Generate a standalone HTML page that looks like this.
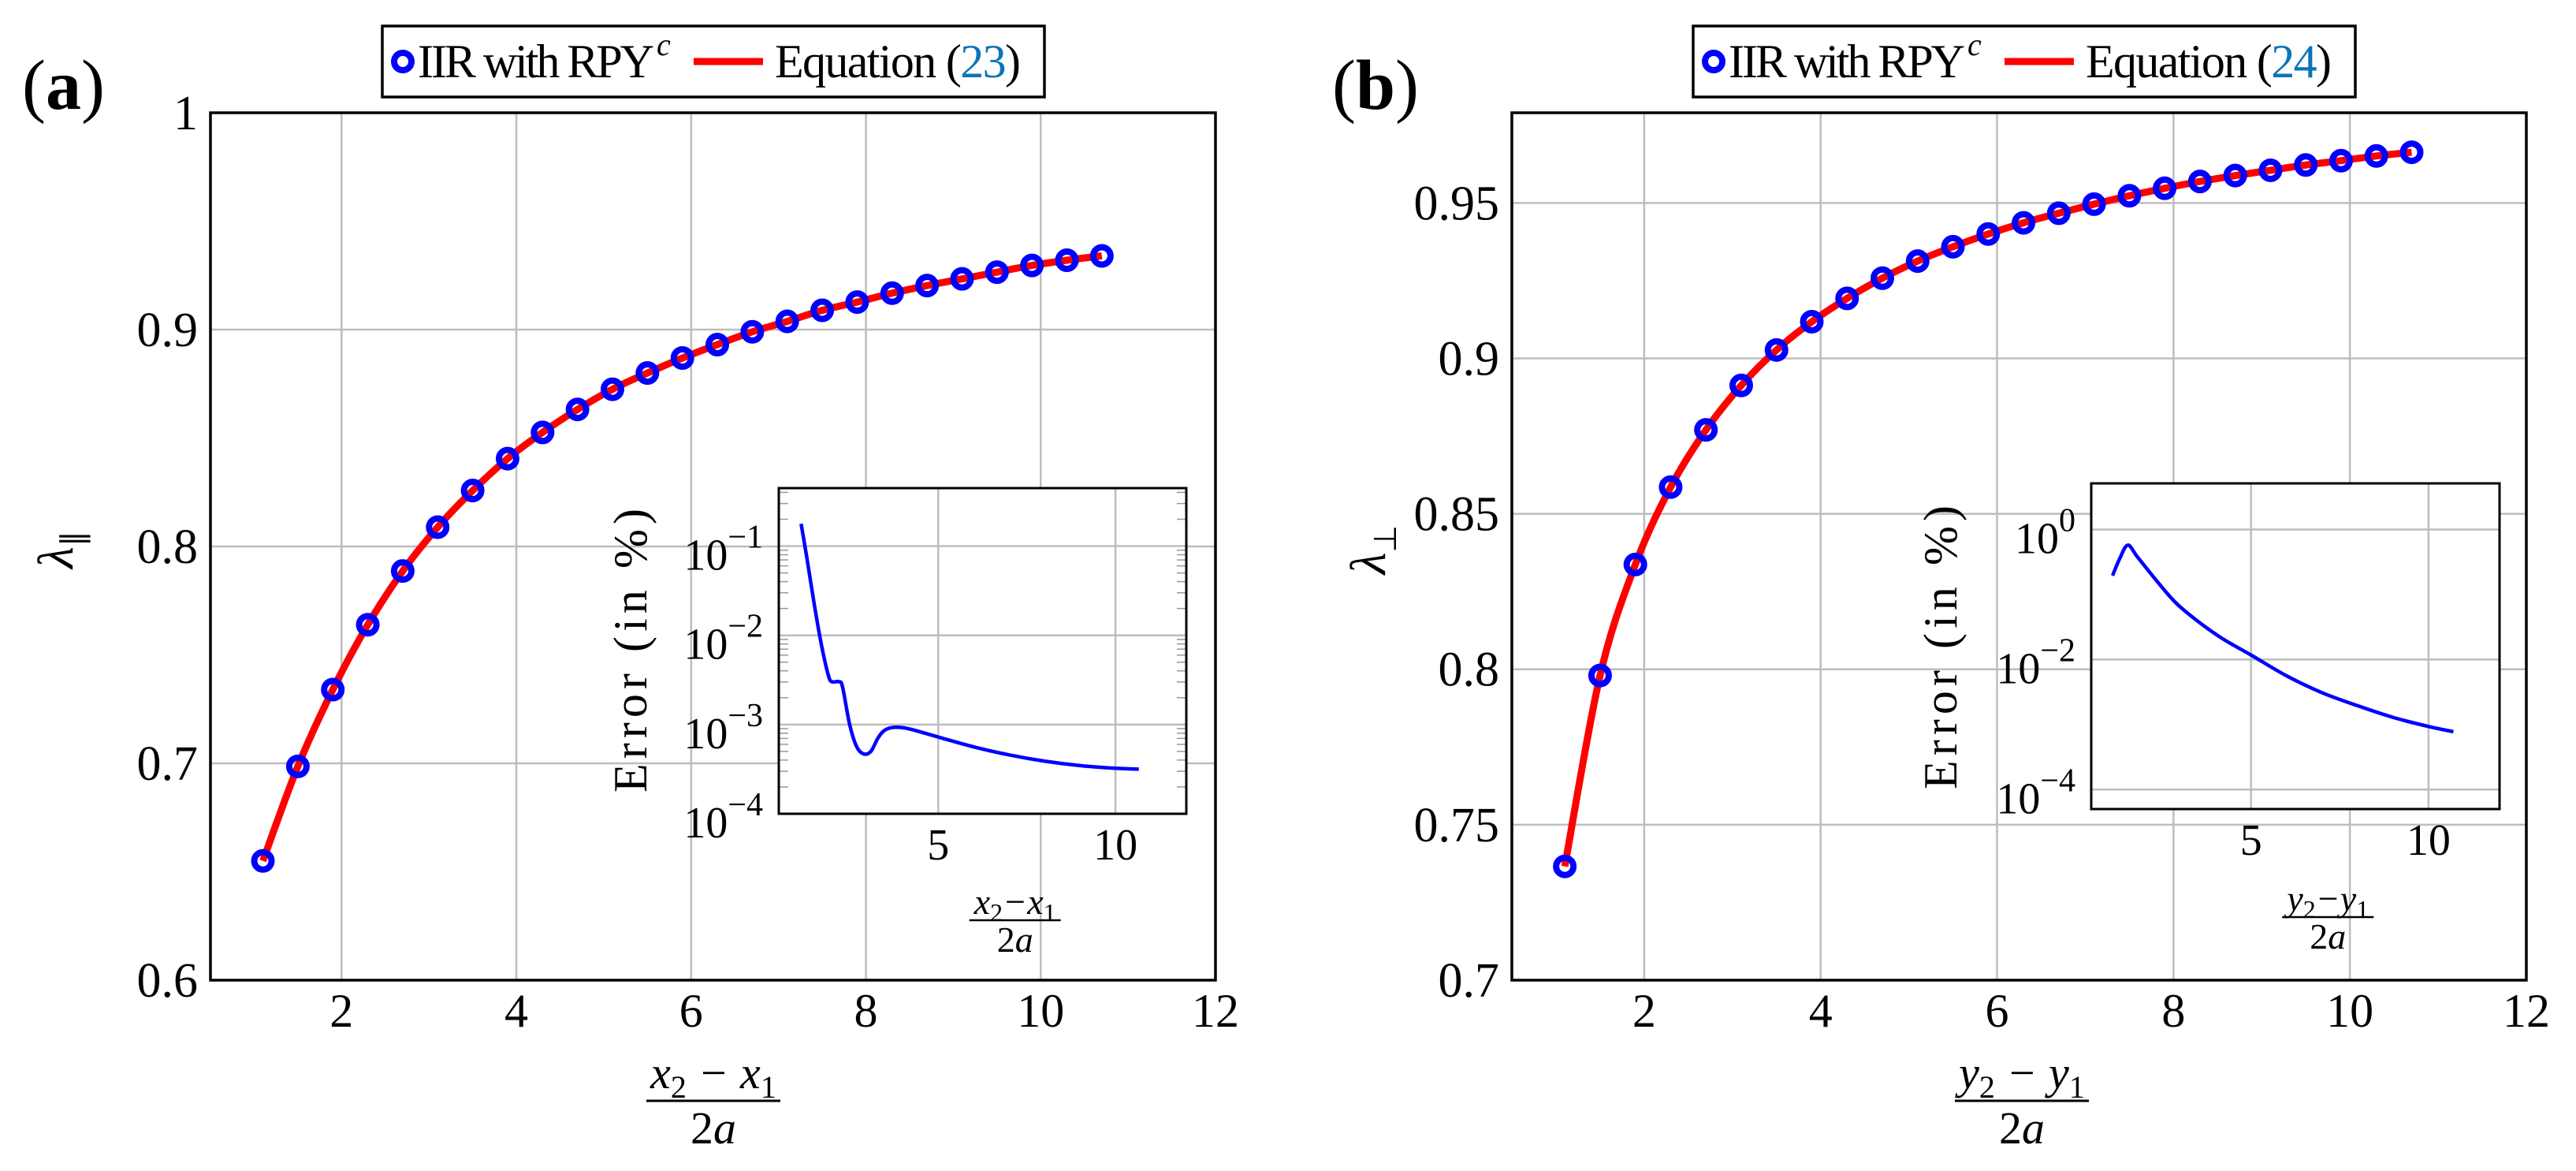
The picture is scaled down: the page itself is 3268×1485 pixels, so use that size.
<!DOCTYPE html>
<html><head><meta charset="utf-8"><style>
html,body{margin:0;padding:0;background:#fff;}
svg{display:block;font-family:"Liberation Serif",serif;}
</style></head><body>
<svg id="fig" width="3268" height="1485" viewBox="0 0 3268 1485" xmlns="http://www.w3.org/2000/svg"></svg>
<script>
// ---- data ----
const xsA = [1.1,1.5,1.9,2.3,2.7,3.1,3.5,3.9,4.3,4.7,5.1,5.5,5.9,6.3,6.7,7.1,7.5,7.9,8.3,8.7,9.1,9.5,9.9,10.3,10.7];
const iirA = [0.655,0.6986,0.734,0.7639,0.7887,0.8089,0.8258,0.8405,0.8526,0.8632,0.8725,0.88,0.8869,0.8931,0.899,0.9038,0.9089,0.9127,0.9168,0.9203,0.9234,0.9265,0.9296,0.932,0.934];
const eqA = [0.655,0.6986,0.734,0.7639,0.7887,0.8089,0.8258,0.8405,0.8526,0.8632,0.8725,0.88,0.8869,0.8931,0.899,0.9038,0.9089,0.9127,0.9168,0.9203,0.9234,0.9265,0.9296,0.932,0.934];
const errXA = [1.13,1.3,1.5,1.7,1.9,2.0,2.2,2.3,2.5,2.7,2.9,3.1,3.3,3.5,3.8,4.2,5,6,7,8,9,10,10.66];
const errLogA = [-0.75,-1.15,-1.65,-2.1,-2.45,-2.52,-2.52,-2.58,-3.0,-3.25,-3.33,-3.3,-3.15,-3.06,-3.03,-3.05,-3.14,-3.25,-3.34,-3.41,-3.46,-3.49,-3.5];
const xsB = [1.1,1.5,1.9,2.3,2.7,3.1,3.5,3.9,4.3,4.7,5.1,5.5,5.9,6.3,6.7,7.1,7.5,7.9,8.3,8.7,9.1,9.5,9.9,10.3,10.7];
const iirB = [0.7366,0.798,0.8337,0.8586,0.877,0.8913,0.9027,0.9118,0.9193,0.9258,0.9313,0.9359,0.94,0.9436,0.9467,0.9496,0.9523,0.9547,0.9569,0.9588,0.9605,0.9622,0.9636,0.9651,0.9663];
const eqB = [0.7366,0.798,0.8337,0.8586,0.877,0.8913,0.9027,0.9118,0.9193,0.9258,0.9313,0.9359,0.94,0.9436,0.9467,0.9496,0.9523,0.9547,0.9569,0.9588,0.9605,0.9622,0.9636,0.9651,0.9663];
const errXB = [1.1,1.3,1.53,1.8,2.3,2.87,3.5,4.2,5,6,7,8,9,10,10.7];
const errLogB = [-0.71,-0.45,-0.24,-0.42,-0.76,-1.12,-1.41,-1.68,-1.93,-2.25,-2.51,-2.71,-2.89,-3.03,-3.11];
const xTicks = [2,4,6,8,10,12];
const yTicksA = [0.6,0.7,0.8,0.9,1];
const yTickLabelsA = ["0.6","0.7","0.8","0.9","1"];
const yTicksB = [0.7,0.75,0.8,0.85,0.9,0.95];
const yTickLabelsB = ["0.7","0.75","0.8","0.85","0.9","0.95"];
const insetXTicks = [5,10];
const insetDecadesA = [-1,-2,-3,-4];
const insetDecadesB = [0,-2,-4];

const NS="http://www.w3.org/2000/svg";
const svg=document.getElementById('fig');
function el(tag,attrs,parent,txt){const e=document.createElementNS(NS,tag);for(const k in attrs)e.setAttribute(k,attrs[k]);if(txt!==undefined)e.textContent=txt;(parent||svg).appendChild(e);return e;}
function lin(d0,d1,r0,r1){return v=>r0+(v-d0)/(d1-d0)*(r1-r0);}
function smooth(p){let d='M'+p[0][0]+','+p[0][1];for(let i=0;i<p.length-1;i++){const p0=p[Math.max(0,i-1)],p1=p[i],p2=p[i+1],p3=p[Math.min(p.length-1,i+2)];
  const c1=[p1[0]+(p2[0]-p0[0])/6,p1[1]+(p2[1]-p0[1])/6],c2=[p2[0]-(p3[0]-p1[0])/6,p2[1]-(p3[1]-p1[1])/6];
  d+=' C'+c1[0]+','+c1[1]+' '+c2[0]+','+c2[1]+' '+p2[0]+','+p2[1];}return d;}

function panel(cfg){
  const g=el('g',{});
  
  
  const X=lin(0.5,12,cfg.L,cfg.R), Y=lin(cfg.y0,cfg.y1,1243,143);
  xTicks.forEach(t=>{const gl=el('line',{x1:X(t),x2:X(t),y1:143,y2:1243,stroke:'#bdbdbd','stroke-width':2.5},g);
    
    const tl=el('text',{x:X(t),y:1302,'font-size':60,'text-anchor':'middle'},g,String(t));
    });
  cfg.yTicks.forEach((t,i)=>{const gl=el('line',{x1:cfg.L,x2:cfg.R,y1:Y(t),y2:Y(t),stroke:'#bdbdbd','stroke-width':2.5},g);
    
    const tl=el('text',{x:cfg.L-16,y:Y(t)+21,'font-size':62,'text-anchor':'end'},g,cfg.yLabels[i]);
    });
  const fr=el('rect',{x:cfg.L,y:143,width:cfg.R-cfg.L,height:1100,fill:'none',stroke:'#000','stroke-width':3.5},g);
  
  const ln=el('path',{d:smooth(cfg.xs.map((x,i)=>[X(x),Y(cfg.eq[i])])),fill:'none',stroke:'#ff0000','stroke-width':9,'stroke-linejoin':'round'},g);
  
  cfg.xs.forEach((x,i)=>{const c=el('circle',{cx:X(x),cy:Y(cfg.iir[i]),r:11,fill:'none',stroke:'#0000ff','stroke-width':8},g);
    });
  const xl=el('g',{},g);
  el('text',{x:cfg.fx,y:1380,'font-size':58,'font-style':'italic','text-anchor':'middle'},xl).innerHTML=cfg.num;
  el('line',{x1:cfg.fx-85,x2:cfg.fx+85,y1:1396,y2:1396,stroke:'#000','stroke-width':3},xl);
  el('text',{x:cfg.fx,y:1450,'font-size':58,'text-anchor':'middle'},xl).innerHTML='2<tspan font-style="italic">a</tspan>';
  const yl=el('text',{x:0,y:0,'font-size':64,'font-style':'italic','text-anchor':'middle',transform:`translate(${cfg.ylx},697) rotate(-90)`},g);
  yl.innerHTML=cfg.ylab;
  
  const pl=el('text',{x:cfg.plx,y:138,'font-size':90},g);pl.innerHTML='(<tspan font-weight="bold">'+cfg.letter+'</tspan>)';
  
  const lg=el('g',{},g);
  el('rect',{x:cfg.lgx,y:33,width:840,height:90,fill:'#fff',stroke:'#000','stroke-width':3.5},lg);
  const e1=el('g',{},lg);
  el('circle',{cx:cfg.lgx+26,cy:78,r:11,fill:'none',stroke:'#0000ff','stroke-width':8},e1);
  el('text',{x:cfg.lgx+45,y:98,'font-size':60,textLength:300,lengthAdjust:'spacing'},e1,'IIR with RPY');
  el('text',{x:cfg.lgx+348,y:70,'font-size':40,'font-style':'italic'},e1,'c');
  const e2=el('g',{},lg);
  el('line',{x1:cfg.lgx+395,x2:cfg.lgx+483,y1:78,y2:78,stroke:'#ff0000','stroke-width':9},e2);
  el('text',{x:cfg.lgx+498,y:98,'font-size':60,textLength:312,lengthAdjust:'spacing'},e2).innerHTML='Equation (<tspan fill="#0b74b8">'+cfg.eqn+'</tspan>)';
  const ig=el('g',{},g);
  const IX=lin(0.5,12,cfg.iL,cfg.iR), IY=lin(cfg.ly0,cfg.ly1,cfg.iB,cfg.iT);
  el('rect',{x:cfg.iL,y:cfg.iT,width:cfg.iR-cfg.iL,height:cfg.iB-cfg.iT,fill:'#fff'},ig);
  insetXTicks.forEach(t=>{const gl=el('line',{x1:IX(t),x2:IX(t),y1:cfg.iT,y2:cfg.iB,stroke:'#bdbdbd','stroke-width':2.5},ig);
    
    const tl=el('text',{x:IX(t),y:cfg.iB+58,'font-size':56,'text-anchor':'middle'},ig,String(t));
    });
  cfg.dec.forEach(d=>{const gl=el('line',{x1:cfg.iL,x2:cfg.iR,y1:IY(d),y2:IY(d),stroke:'#bdbdbd','stroke-width':2.5},ig);
    
    const tl=el('text',{x:cfg.iL-20,y:IY(d)+30,'font-size':56,'text-anchor':'end'},ig);
    tl.innerHTML='10<tspan font-size="42" dy="-28">'+(d<0?'\u2212'+(-d):d)+'</tspan>';
    });
  if(cfg.minor){for(let d=Math.ceil(cfg.ly0);d<cfg.ly1;d++){for(let m=2;m<=9;m++){const v=d+Math.log10(m);if(v>cfg.ly1)break;
    el('line',{x1:cfg.iL,x2:cfg.iL+12,y1:IY(v),y2:IY(v),stroke:'#999','stroke-width':1.5},ig);
    el('line',{x1:cfg.iR-12,x2:cfg.iR,y1:IY(v),y2:IY(v),stroke:'#999','stroke-width':1.5},ig);}}}
  el('rect',{x:cfg.iL,y:cfg.iT,width:cfg.iR-cfg.iL,height:cfg.iB-cfg.iT,fill:'none',stroke:'#000','stroke-width':3},ig);
  const ec=el('path',{d:smooth(cfg.ex.map((x,i)=>[IX(x),IY(cfg.ey[i])])),fill:'none',stroke:'#0000ff','stroke-width':4.5,'stroke-linejoin':'round'},ig);
  
  const ey=el('text',{x:0,y:0,'font-size':60,'text-anchor':'middle',textLength:360,lengthAdjust:'spacing',transform:`translate(${cfg.ielx},${cfg.iely}) rotate(-90)`},ig,'Error (in %)');
  
  const ixl=el('g',{},ig);
  const cx=(IX(5)+IX(10))/2-15;
  el('text',{x:cx,y:cfg.ibar-8,'font-size':46,'font-style':'italic','text-anchor':'middle'},ixl).innerHTML=cfg.inum;
  el('line',{x1:cx-58,x2:cx+58,y1:cfg.ibar,y2:cfg.ibar,stroke:'#000','stroke-width':2.5},ixl);
  el('text',{x:cx,y:cfg.ibar+40,'font-size':46,'text-anchor':'middle'},ixl).innerHTML='2<tspan font-style="italic">a</tspan>';
}
panel({name:'panel-a',L:267,R:1542,y0:0.6,y1:1.0,yTicks:yTicksA,yLabels:yTickLabelsA,xs:xsA,iir:iirA,eq:eqA,
  fx:905,num:'x<tspan font-size="40" font-style="normal" dy="12">2</tspan><tspan dy="-12"> \u2212 x</tspan><tspan font-size="40" font-style="normal" dy="12">1</tspan>',
  ylx:92,ylab:'\u03BB<tspan font-size="40" font-style="normal" dy="14">\u2225</tspan>',plx:28,letter:'a',lgx:485,eqn:'23',
  iL:988,iR:1505,iT:619,iB:1032,ly0:-4,ly1:-0.35,dec:insetDecadesA,minor:true,ex:errXA,ey:errLogA,ielx:820,iely:825,ibar:1167,
  inum:'x<tspan font-size="32" font-style="normal" dy="9">2</tspan><tspan dy="-9">\u2212x</tspan><tspan font-size="32" font-style="normal" dy="9">1</tspan>'});
panel({name:'panel-b',L:1918,R:3205,y0:0.7,y1:0.979,yTicks:yTicksB,yLabels:yTickLabelsB,xs:xsB,iir:iirB,eq:eqB,
  fx:2565,num:'y<tspan font-size="40" font-style="normal" dy="12">2</tspan><tspan dy="-12"> \u2212 y</tspan><tspan font-size="40" font-style="normal" dy="12">1</tspan>',
  ylx:1757,ylab:'\u03BB<tspan font-size="40" font-style="normal" dy="14">\u22A5</tspan>',plx:1690,letter:'b',lgx:2148,eqn:'24',
  iL:2653,iR:3171,iT:613,iB:1026,ly0:-4.3,ly1:0.71,dec:insetDecadesB,minor:false,ex:errXB,ey:errLogB,ielx:2482,iely:821,ibar:1163,
  inum:'y<tspan font-size="32" font-style="normal" dy="9">2</tspan><tspan dy="-9">\u2212y</tspan><tspan font-size="32" font-style="normal" dy="9">1</tspan>'});
</script>
</body></html>
